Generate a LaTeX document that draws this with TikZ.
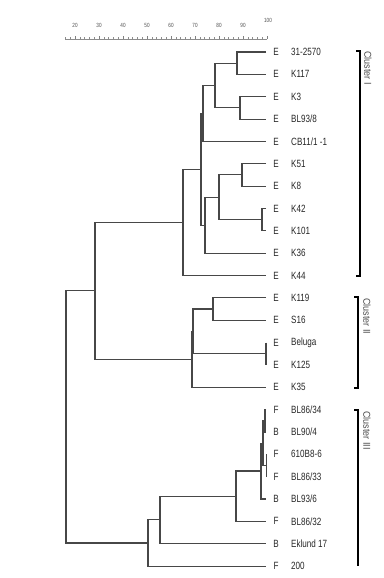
\documentclass[tikz,border=0pt]{standalone}
\usepackage{fontspec}
\setmainfont{Liberation Sans}[FakeStretch=0.77]
\newfontfamily\clfont{Liberation Sans}[FakeStretch=0.9]
\begin{document}
\begin{tikzpicture}[x=1pt,y=-1pt,
  tree/.style={draw=black!72,line width=1.1pt},
  lt/.style={font=\fontsize{10.5}{11}\selectfont,text=black!85,inner sep=0pt},
  nm/.style={font=\fontsize{10.5}{11}\selectfont,text=black!85,inner sep=0pt,anchor=west},
  sc/.style={font=\fontsize{6}{7}\selectfont,text=black!70,inner sep=0pt},
  brk/.style={draw=black,line width=2.6pt},
  cl/.style={font=\clfont\fontsize{10}{11}\selectfont,text=black!70,inner sep=0pt,rotate=-90,anchor=west}]
\useasboundingbox (0,0) rectangle (383,578);
% ruler
\draw[black!45,line width=0.5pt] (65,39) -- (267,39);
\foreach \v in {16,18,...,100}{
  \draw[black!45,line width=0.4pt] ({75+2.4*(\v-20)},39) -- ({75+2.4*(\v-20)},37.5);}
\foreach \v in {20,30,...,100}{
  \draw[black!50,line width=0.5pt] ({75+2.4*(\v-20)},39) -- ({75+2.4*(\v-20)},36);}
\foreach \v in {20,30,...,90}{
  \node[sc] (s\v) at ({75+2.4*(\v-20)},25) {\v};}
\node[sc] (s100) at (268,20) {100};
% leaves
\foreach \i/\c/\n in {1/E/{31-2570},2/E/{K117},3/E/{K3},4/E/{BL93/8},5/E/{CB11/1 -1},6/E/{K51},7/E/{K8},8/E/{K42},9/E/{K101},10/E/{K36},11/E/{K44},12/E/{K119},13/E/{S16},14/E/{Beluga},15/E/{K125},16/E/{K35},17/F/{BL86/34},18/B/{BL90/4},19/F/{610B8-6},20/F/{BL86/33},21/B/{BL93/6},22/F/{BL86/32},23/B/{Eklund 17},24/F/{200}}{
  \coordinate (L\i) at (266,{52+22.35*(\i-1)});
  \node[lt] (c\i) at (276,{52+22.35*(\i-1)}) {\c};
  \node[nm] (n\i) at (291,{52+22.35*(\i-1)}) {\n};}
% internal nodes
\coordinate (a) at (237,63.2);
\coordinate (b) at (240,107.9);
\coordinate (c) at (215,85.5);
\coordinate (d) at (203,113.5);
\coordinate (e) at (242,174.9);
\coordinate (f) at (262,219.6);
\coordinate (g) at (219,197.3);
\coordinate (h) at (205,225.2);
\coordinate (i) at (201,169.3);
\coordinate (j) at (183,222.4);
\coordinate (k) at (213,309.0);
\coordinate (m) at (266,353.7);
\coordinate (n) at (193,331.4);
\coordinate (o) at (192,359.3);
\coordinate (p) at (95,290.9);
\coordinate (q) at (265,420.8);
\coordinate (r) at (266.5,465.5);
\coordinate (s) at (263,443.1);
\coordinate (t) at (261,471.0);
\coordinate (u) at (236,496.2);
\coordinate (v) at (160,519.9);
\coordinate (w) at (148,543.0);
\coordinate (root) at (66,417.0);
% tree
\draw[tree] (L1) -| (a) |- (L2);
\draw[tree] (L3) -| (b) |- (L4);
\draw[tree] (a) -| (c) |- (b);
\draw[tree] (c) -| (d) |- (L5);
\draw[tree] (L6) -| (e) |- (L7);
\draw[tree] (L8) -| (f) |- (L9);
\draw[tree] (e) -| (g) |- (f);
\draw[tree] (g) -| (h) |- (L10);
\draw[tree] (d) -| (i) |- (h);
\draw[tree] (i) -| (j) |- (L11);
\draw[tree] (L12) -| (k) |- (L13);
\draw[tree] (L14) -| (m) |- (L15);
\draw[tree] (k) -| (n) |- (m);
\draw[tree] (n) -| (o) |- (L16);
\draw[tree] (j) -| (p) |- (o);
\draw[tree] (L17) -| (q) |- (L18);
\draw[tree] (L19) -| (r) |- (L20);
\draw[tree] (q) -| (s) |- (r);
\draw[tree] (s) -| (t) |- (L21);
\draw[tree] (t) -| (u) |- (L22);
\draw[tree] (u) -| (v) |- (L23);
\draw[tree] (v) -| (w) |- (L24);
\draw[tree] (p) -| (root) |- (w);
% cluster brackets
\coordinate (b1t) at (360,51);  \coordinate (b1b) at (360,276);
\coordinate (b2t) at (358,297); \coordinate (b2b) at (358,388);
\coordinate (b3t) at (358,410); \coordinate (b3b) at (358,566);
\draw[brk] ([xshift=-4pt]b1t) -- (b1t) -- (b1b) -- ([xshift=-4pt]b1b);
\draw[brk] ([xshift=-4pt]b2t) -- (b2t) -- (b2b) -- ([xshift=-4pt]b2b);
\draw[brk] ([xshift=-4pt]b3t) -- (b3t) -- (b3b);
\node[cl] (k1) at (368,51) {Cluster I};
\node[cl] (k2) at (367,298) {Cluster II};
\node[cl] (k3) at (367,411) {Cluster III};
\end{tikzpicture}
\end{document}
